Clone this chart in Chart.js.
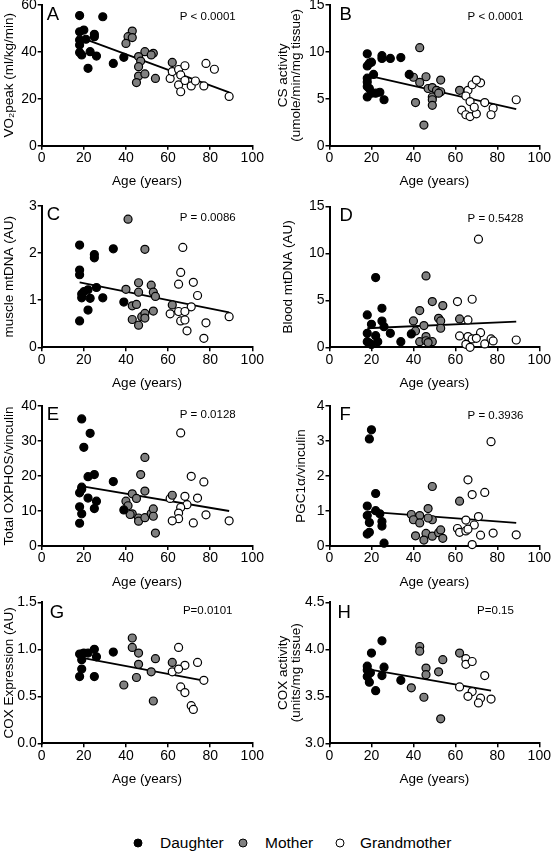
<!DOCTYPE html>
<html>
<head>
<meta charset="utf-8">
<script src="https://cdn.jsdelivr.net/npm/chart.js@4.4.0/dist/chart.umd.min.js"></script>
<style>
  body { margin: 0; background: #fff; width: 552px; height: 853px; position: relative; overflow: hidden;
         font-family: "Liberation Sans", Arial, sans-serif; }
  canvas { position: absolute; }
  .key { position: absolute; top: 843px; transform: translateY(-50%); font-size: 15.5px; color: #000; white-space: nowrap; }
  .dot { position: absolute; top: 843px; width: 7px; height: 7px; border-radius: 50%; border: 1.3px solid #000; transform: translate(-50%, -50%); }
</style>
</head>
<body>
<div class="dot" style="left:138px;background:#000"></div><div class="key" style="left:160px">Daughter</div>
<div class="dot" style="left:243px;background:#808080"></div><div class="key" style="left:265px">Mother</div>
<div class="dot" style="left:340px;background:#fff"></div><div class="key" style="left:360px">Grandmother</div>
<script>
// age (years) vs value; one array per group and panel

const xTicks = [0, 20, 40, 60, 80, 100];

// A: VO2peak
const vo2Daughter = [[18,55.5],[29,55],[18,48.6],[20,49.3],[25,47.5],[25,46.5],[18,45.1],[21,45.4],[18,42.9],[18,39.7],[19,38.7],[23,40.1],[26,38.2],[22,33],[34,35.1],[39,37.7]];
const vo2Mother = [[43,48.9],[41,46.5],[43,46.1],[40,43.6],[49,40.1],[53,39.4],[52,38.7],[46,38],[47,36.1],[46,33.7],[46,29.7],[49,30.6],[45,26.9],[54,28.7],[62,35.5]];
const vo2Grand = [[61,28.7],[62,31.6],[65,32.5],[66,30.2],[68,34.1],[65,25.9],[66,23],[68,27.8],[71,25.5],[73,27.6],[78,35.1],[82,32.6],[77,25.5],[89,21]];
const vo2Fit = [[18,46.3],[89,22.7]];
const vo2Ticks = [0, 20, 40, 60];

// B: CS activity
const csDaughter = [[18,9.8],[19,8.8],[18,8.5],[20,8.9],[25,9.6],[25,9.3],[29,9.3],[34,9.4],[18,7.2],[18,6.8],[18,6.3],[21,7.6],[19,6.1],[22,5.6],[20,5.6],[24,5.7],[18,5.2],[26,4.9],[38,7.6]];
const csMother = [[43,10.45],[40,7.3],[43,6.75],[46,7.35],[53,7],[47,6.1],[49,6.2],[51,5.9],[53,5.75],[49,5.2],[49,4.9],[49,4.3],[41,4.6],[45,2.2],[52,5.6],[62,5.9]];
const csGrand = [[66,5.9],[68,6.5],[72,6.7],[70,7.0],[65,5.3],[67,4.7],[63,3.8],[65,3.3],[67,3.1],[70,3.4],[69,4.1],[74,4.6],[78,4.0],[77,3.3],[89,4.9]];
const csFit = [[18,7.5],[89,3.9]];
const csTicks = [0, 5, 10, 15];

// C: muscle mtDNA
const musDaughter = [[18,2.17],[18,1.64],[18,1.54],[19,1.13],[20,1.18],[19,1.05],[22,1.22],[23,1.04],[22,0.79],[18,0.56],[26,1.27],[25,1.97],[25,1.9],[29,1.05],[34,2.09],[39,0.96]];
const musMother = [[41,2.72],[49,2.08],[40,1.23],[46,1.37],[46,1.17],[52,1.32],[53,1.17],[54,1.08],[43,0.88],[45,0.91],[43,0.59],[46,0.47],[47.5,0.65],[49,0.72],[49,0.62],[53,0.77],[62,0.9]];
const musGrand = [[67,2.12],[66,1.59],[65,1.34],[72,1.38],[74,1.1],[71,0.86],[61,0.71],[65,0.76],[68,0.76],[66,0.56],[68,0.58],[69,0.35],[78,0.52],[77,0.19],[89,0.65]];
const musFit = [[18,1.38],[89,0.74]];
const musTicks = [0, 1, 2, 3];

// D: blood mtDNA
const bldDaughter = [[18,3.45],[22,7.43],[25,4.16],[25,2.8],[20,2.45],[18,1.49],[18,0.6],[19,0.45],[22,1.24],[23,0.6],[26,2.2],[29,1.49],[34,0.6],[39,1.42],[20,0.3]];
const bldMother = [[46,7.6],[49,4.87],[54,4.44],[43,3.91],[40,2.81],[41,1.74],[45,2.31],[52,3.09],[53,2.81],[53,2.03],[43,0.6],[46,1.14],[46,0.7],[49,0.6],[47,0.5],[62,3.02]];
const bldGrand = [[61,4.87],[68,5.12],[71,11.52],[66,2.92],[62,1.21],[66,1.14],[72,1.56],[68,0.89],[70,0.96],[65,0.32],[67,0.0],[74,0.36],[77,0.89],[78,0.68],[89,0.78]];
const bldFit = [[18,2.03],[89,2.74]];
const bldTicks = [0, 5, 10, 15];

// E: total OXPHOS
const oxDaughter = [[19,36.3],[20,28.2],[23,32.2],[22,19.8],[25,20.4],[19,16.8],[18,15.2],[19,16.2],[22,13.7],[26,12.8],[25,10.7],[18,11.2],[19,9.2],[18,6.5],[34,18.4],[39,10.3]];
const oxMother = [[49,25.3],[47,20.4],[49,15.7],[43,14.9],[45,13.6],[40,12.8],[41,11.5],[43,9.2],[42,9],[46,8],[46,7.1],[49,8.1],[52,9.3],[53,10.6],[53,8.5],[54,3.7],[62,14.5]];
const oxGrand = [[66,32.3],[71,19.9],[77,18.3],[68,14.2],[74,13.7],[61,13.6],[69,11.8],[66,11],[65,9.4],[65,7.8],[62,7.2],[72,6.6],[78,8.9],[89,7.2]];
const oxFit = [[18,17.2],[89,10]];
const oxTicks = [0, 10, 20, 30, 40];

// F: PGC1a
const pgcDaughter = [[20,3.32],[19,3.06],[22,1.5],[18,1.14],[22,1.01],[18,0.87],[19,0.67],[25,0.7],[25,0.57],[24,0.92],[18,0.34],[19,0.39],[26,0.08]];
const pgcMother = [[49,1.7],[62,1.28],[47,1.07],[39,0.9],[43,0.87],[40,0.75],[49,0.75],[43,0.66],[41,0.29],[46,0.36],[45,0.17],[49,0.28],[52,0.38],[53,0.46],[54,0.22],[47,0.8]];
const pgcGrand = [[66,1.89],[68,1.47],[74,1.53],[77,2.98],[71,0.84],[65,0.74],[69,0.6],[61,0.5],[62,0.39],[65,0.43],[66,0.48],[72,0.31],[78,0.37],[68,0.04],[89,0.32]];
const pgcFit = [[18,0.98],[89,0.66]];
const pgcTicks = [0, 1, 2, 3, 4];

// G: COX expression
const coxeDaughter = [[18,0.95],[20,0.96],[22,0.96],[25,1.0],[19,0.89],[26,0.92],[19,0.79],[18,0.71],[25,0.71],[34,0.97],[19,0.95]];
const coxeMother = [[43,1.12],[43,1.02],[46,0.96],[46,0.84],[54,0.9],[45,0.7],[39,0.62],[52,0.76],[53,0.45],[62,0.86]];
const coxeGrand = [[65,1.02],[68,0.83],[74,0.86],[62,0.76],[65,0.79],[66,0.6],[68,0.54],[71,0.4],[72,0.36],[77,0.67]];
const coxeFit = [[18,0.913],[77,0.667]];
const coxeTicks = [0, 0.5, 1.0, 1.5];

// H: COX activity
const coxaDaughter = [[25,4.09],[20,3.96],[18,3.82],[18,3.71],[19.5,3.75],[19,3.65],[22,3.56],[26,3.81],[25,3.72],[34,3.67],[18,3.78]];
const coxaMother = [[43,4.03],[43,3.98],[54,3.89],[46,3.8],[46,3.73],[52,3.76],[39,3.59],[45,3.49],[53,3.26],[62,3.96]];
const coxaGrand = [[65,3.9],[65,3.84],[68,3.87],[74,3.72],[62,3.6],[68,3.55],[66,3.5],[72,3.48],[71,3.43],[77,3.47]];
const coxaFit = [[18,3.79],[77,3.56]];
const coxaTicks = [3.0, 3.5, 4.0, 4.5];

const FONT = '"Liberation Sans", Arial, sans-serif';
Chart.defaults.font.family = FONT;
Chart.defaults.color = "#000";

const XH = 45; // height of every x axis box

// panel letter + p value, placed relative to the plot area
const panelText = {
  id: "panelText",
  afterDraw(chart, args, o) {
    const { ctx, chartArea: a } = chart;
    ctx.save();
    ctx.fillStyle = "#000";
    ctx.font = "18.5px " + FONT;
    ctx.textAlign = "left";
    ctx.textBaseline = "alphabetic";
    ctx.fillText(o.letter, a.left + o.lx, a.top + o.ly);
    ctx.font = "11.5px " + FONT;
    ctx.textAlign = "center";
    ctx.textBaseline = "middle";
    ctx.fillText(o.p, a.left + 166, a.top + o.py);
    ctx.restore();
  },
};

const toXY = (arr) => arr.map(([x, y]) => ({ x, y }));

function group(arr, fill) {
  return {
    data: toXY(arr),
    pointRadius: 4,
    pointBorderWidth: 1.2,
    pointBackgroundColor: fill,
    pointBorderColor: "#000",
    clip: false,
    order: 1,
  };
}

function makePanel(p) {
  const cx = p.col ? 266 : 0;
  const cw = p.col ? 286 : 276;
  const cy = Math.floor(p.top) - 14;
  const ch = Math.ceil(p.bottom) + 50 - cy;
  const canvas = document.createElement("canvas");
  canvas.width = cw;
  canvas.height = ch;
  canvas.style.left = cx + "px";
  canvas.style.top = cy + "px";
  document.body.appendChild(canvas);
  const yw = p.left - cx;

  new Chart(canvas, {
    type: "scatter",
    data: {
      datasets: [
        group(p.d, "#000"),
        group(p.m, "#808080"),
        group(p.g, "#fff"),
        {
          type: "line",
          data: toXY(p.fit),
          borderColor: "#000",
          borderWidth: 1.8,
          pointRadius: 0,
          clip: false,
          order: 5,
        },
      ],
    },
    options: {
      responsive: false,
      animation: false,
      events: [],
      layout: {
        padding: { left: 0, top: p.top - cy, right: cx + cw - p.right, bottom: cy + ch - p.bottom - XH },
      },
      plugins: {
        legend: { display: false },
        tooltip: { enabled: false },
        panelText: { letter: p.letter, lx: p.lx, ly: p.ly, p: p.pText, py: p.py },
      },
      scales: {
        x: {
          type: "linear",
          min: 0,
          max: 100,
          afterBuildTicks: (s) => { s.ticks = xTicks.map((v) => ({ value: v })); },
          afterFit: (s) => {
            s.height = XH;
            s.paddingLeft = s.paddingRight = s.paddingTop = s.paddingBottom = 0;
          },
          grid: { drawOnChartArea: false, drawTicks: true, tickLength: 4, color: "#000", lineWidth: 1.5 },
          border: { display: true, color: "#000", width: 2 },
          ticks: { color: "#000", font: { size: 14, weight: "normal" }, padding: 0, maxRotation: 0, autoSkip: false },
          title: { display: true, text: "Age (years)", color: "#000", font: { size: 13.5, weight: "normal", lineHeight: 1 }, padding: { top: 0, bottom: 2.25 } },
        },
        y: {
          type: "linear",
          min: p.ticks[0],
          max: p.ticks[p.ticks.length - 1],
          afterBuildTicks: (s) => { s.ticks = p.ticks.map((v) => ({ value: v })); },
          afterFit: (s) => {
            s.width = yw;
            s.paddingLeft = s.paddingRight = s.paddingTop = s.paddingBottom = 0;
          },
          grid: { drawOnChartArea: false, drawTicks: true, tickLength: 4, color: "#000", lineWidth: 1.5 },
          border: { display: true, color: "#000", width: 2 },
          ticks: { color: "#000", font: { size: 14, weight: "normal" }, padding: 1, autoSkip: false, callback: (v) => v.toFixed(p.dec) },
          title: { display: true, text: p.title, color: "#000", font: { size: 13.5, weight: "normal", lineHeight: 1 }, padding: { top: p.tpad, bottom: 0 } },
        },
      },
    },
    plugins: [panelText],
  });
}

const panels = [
  { col: 0, left: 41.7, top: 5, right: 252.3, bottom: 145.7, d: vo2Daughter, m: vo2Mother, g: vo2Grand, fit: vo2Fit, ticks: vo2Ticks, dec: 0,
    title: "VO\u2082peak (ml/kg/min)", tpad: 2.25, letter: "A", lx: 5, ly: 15, pText: "P < 0.0001", py: 11.5 },
  { col: 1, left: 329.5, top: 5, right: 539.3, bottom: 145.7, d: csDaughter, m: csMother, g: csGrand, fit: csFit, ticks: csTicks, dec: 0,
    title: ["CS activity", "(umole/min/mg tissue)"], tpad: 10.5, letter: "B", lx: 10, ly: 15, pText: "P < 0.0001", py: 11.5 },
  { col: 0, left: 41.7, top: 206, right: 252.3, bottom: 347.3, d: musDaughter, m: musMother, g: musGrand, fit: musFit, ticks: musTicks, dec: 0,
    title: "muscle mtDNA (AU)", tpad: 2.25, letter: "C", lx: 5, ly: 14, pText: "P = 0.0086", py: 12 },
  { col: 1, left: 329.5, top: 206.5, right: 539.3, bottom: 347.3, d: bldDaughter, m: bldMother, g: bldGrand, fit: bldFit, ticks: bldTicks, dec: 0,
    title: "Blood mtDNA (AU)", tpad: 16, letter: "D", lx: 10, ly: 14, pText: "P = 0.5428", py: 12 },
  { col: 0, left: 41.7, top: 406, right: 252.3, bottom: 546, d: oxDaughter, m: oxMother, g: oxGrand, fit: oxFit, ticks: oxTicks, dec: 0,
    title: "Total OXPHOS/vinculin", tpad: 2.25, letter: "E", lx: 5, ly: 13.5, pText: "P = 0.0128", py: 9 },
  { col: 1, left: 329.5, top: 406, right: 539.3, bottom: 546, d: pgcDaughter, m: pgcMother, g: pgcGrand, fit: pgcFit, ticks: pgcTicks, dec: 0,
    title: "PGC1\u03b1/vinculin", tpad: 29, letter: "F", lx: 10, ly: 13.5, pText: "P = 0.3936", py: 9.5 },
  { col: 0, left: 41.7, top: 602.3, right: 252.3, bottom: 743.3, d: coxeDaughter, m: coxeMother, g: coxeGrand, fit: coxeFit, ticks: coxeTicks, dec: 1,
    title: "COX Expression (AU)", tpad: 2.25, letter: "G", lx: 8, ly: 15.5, pText: "P=0.0101", py: 9 },
  { col: 1, left: 329.5, top: 602.3, right: 539.3, bottom: 743.3, d: coxaDaughter, m: coxaMother, g: coxaGrand, fit: coxaFit, ticks: coxaTicks, dec: 1,
    title: ["COX activity", "(units/mg tissue)"], tpad: 10.5, letter: "H", lx: 8, ly: 15.5, pText: "P=0.15", py: 9 },
];

window.addEventListener("DOMContentLoaded", () => {
  panels.forEach(makePanel);
});
</script>
</body>
</html>
